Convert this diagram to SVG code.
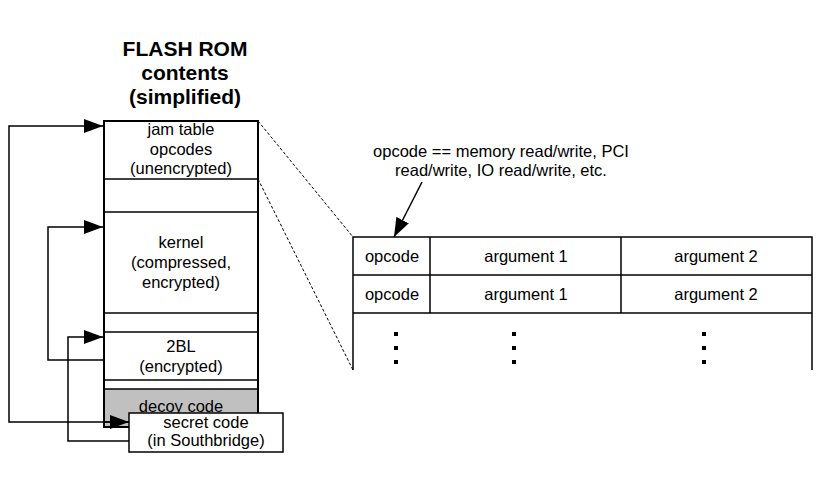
<svg xmlns="http://www.w3.org/2000/svg" width="828" height="488" viewBox="0 0 828 488">
<defs>
<style>
text{font-family:"Liberation Sans",Arial,sans-serif;font-size:16.5px;fill:#000;text-anchor:middle}
.title{font-weight:bold;font-size:21px}
.ln{stroke:#000;stroke-width:1.5;fill:none}
.box{stroke:#000;stroke-width:2;fill:#fff}
.dash{stroke:#000;stroke-width:1;stroke-dasharray:3,2;fill:none}
.dot{fill:#000}
</style>
<marker id="ah" markerWidth="20" markerHeight="14" refX="19" refY="7" orient="auto" markerUnits="userSpaceOnUse">
<path d="M0,0 L19,7 L0,14 Z" fill="#000"/>
</marker>
</defs>
<rect width="828" height="488" fill="#fff"/>
<g id="title">
<text class="title" x="185" y="56">FLASH ROM</text>
<text class="title" x="185" y="80">contents</text>
<text class="title" x="185" y="104">(simplified)</text>
</g>
<g id="flash-rom">
<rect class="box" x="104" y="121" width="154" height="306"/>
<rect x="105" y="389" width="152" height="37" fill="#c0c0c0"/>
<line class="ln" x1="104" y1="179" x2="258" y2="179"/>
<line class="ln" x1="104" y1="212" x2="258" y2="212"/>
<line class="ln" x1="104" y1="313" x2="258" y2="313"/>
<line class="ln" x1="104" y1="332" x2="258" y2="332"/>
<line class="ln" x1="104" y1="380" x2="258" y2="380"/>
<line class="ln" x1="104" y1="389" x2="258" y2="389"/>
<rect x="104" y="121" width="154" height="306" fill="none" stroke="#000" stroke-width="2"/>
</g>
<g id="jam-table">
<text x="181" y="135">jam table</text>
<text x="181" y="155">opcodes</text>
<text x="181" y="174">(unencrypted)</text>
</g>
<g id="kernel">
<text x="181" y="248">kernel</text>
<text x="181" y="268">(compressed,</text>
<text x="181" y="288">encrypted)</text>
</g>
<g id="twobl">
<text x="181" y="352">2BL</text>
<text x="181" y="372">(encrypted)</text>
</g>
<g id="decoy">
<text x="181" y="412">decoy code</text>
</g>
<g id="connectors">
<polyline class="ln" points="129,422 9,422 9,126 103,126" marker-end="url(#ah)"/>
<line class="ln" x1="105" y1="422" x2="129" y2="422" marker-end="url(#ah)"/>
<polyline class="ln" points="104,360 48,360 48,227 103,227" marker-end="url(#ah)"/>
<polyline class="ln" points="129,441 68,441 68,337 103,337" marker-end="url(#ah)"/>
<line class="dash" x1="258" y1="121" x2="353" y2="237"/>
<line class="dash" x1="258" y1="179" x2="353" y2="370"/>
<line class="ln" x1="422" y1="182" x2="394" y2="237" marker-end="url(#ah)"/>
</g>
<g id="secret">
<rect x="129" y="413" width="154" height="39" fill="#fff" stroke="#000" stroke-width="1.5"/>
<text x="206" y="428">secret code</text>
<text x="206" y="446">(in Southbridge)</text>
</g>
<g id="note">
<text x="501" y="157">opcode == memory read/write, PCI</text>
<text x="501" y="176">read/write, IO read/write, etc.</text>
</g>
<g id="table">
<polyline class="ln" points="353,370 353,237 812,237 812,370"/>
<line class="ln" x1="353" y1="275" x2="812" y2="275"/>
<line class="ln" x1="353" y1="313" x2="812" y2="313"/>
<line class="ln" x1="430" y1="237" x2="430" y2="313"/>
<line class="ln" x1="621" y1="237" x2="621" y2="313"/>
<text x="392" y="262">opcode</text>
<text x="526" y="262">argument 1</text>
<text x="716" y="262">argument 2</text>
<text x="392" y="300">opcode</text>
<text x="526" y="300">argument 1</text>
<text x="716" y="300">argument 2</text>
<rect class="dot" x="394" y="332" width="4" height="4"/>
<rect class="dot" x="394" y="346" width="4" height="4"/>
<rect class="dot" x="394" y="360" width="4" height="4"/>
<rect class="dot" x="512" y="332" width="4" height="4"/>
<rect class="dot" x="512" y="346" width="4" height="4"/>
<rect class="dot" x="512" y="360" width="4" height="4"/>
<rect class="dot" x="702" y="332" width="4" height="4"/>
<rect class="dot" x="702" y="346" width="4" height="4"/>
<rect class="dot" x="702" y="360" width="4" height="4"/>
</g>
</svg>
